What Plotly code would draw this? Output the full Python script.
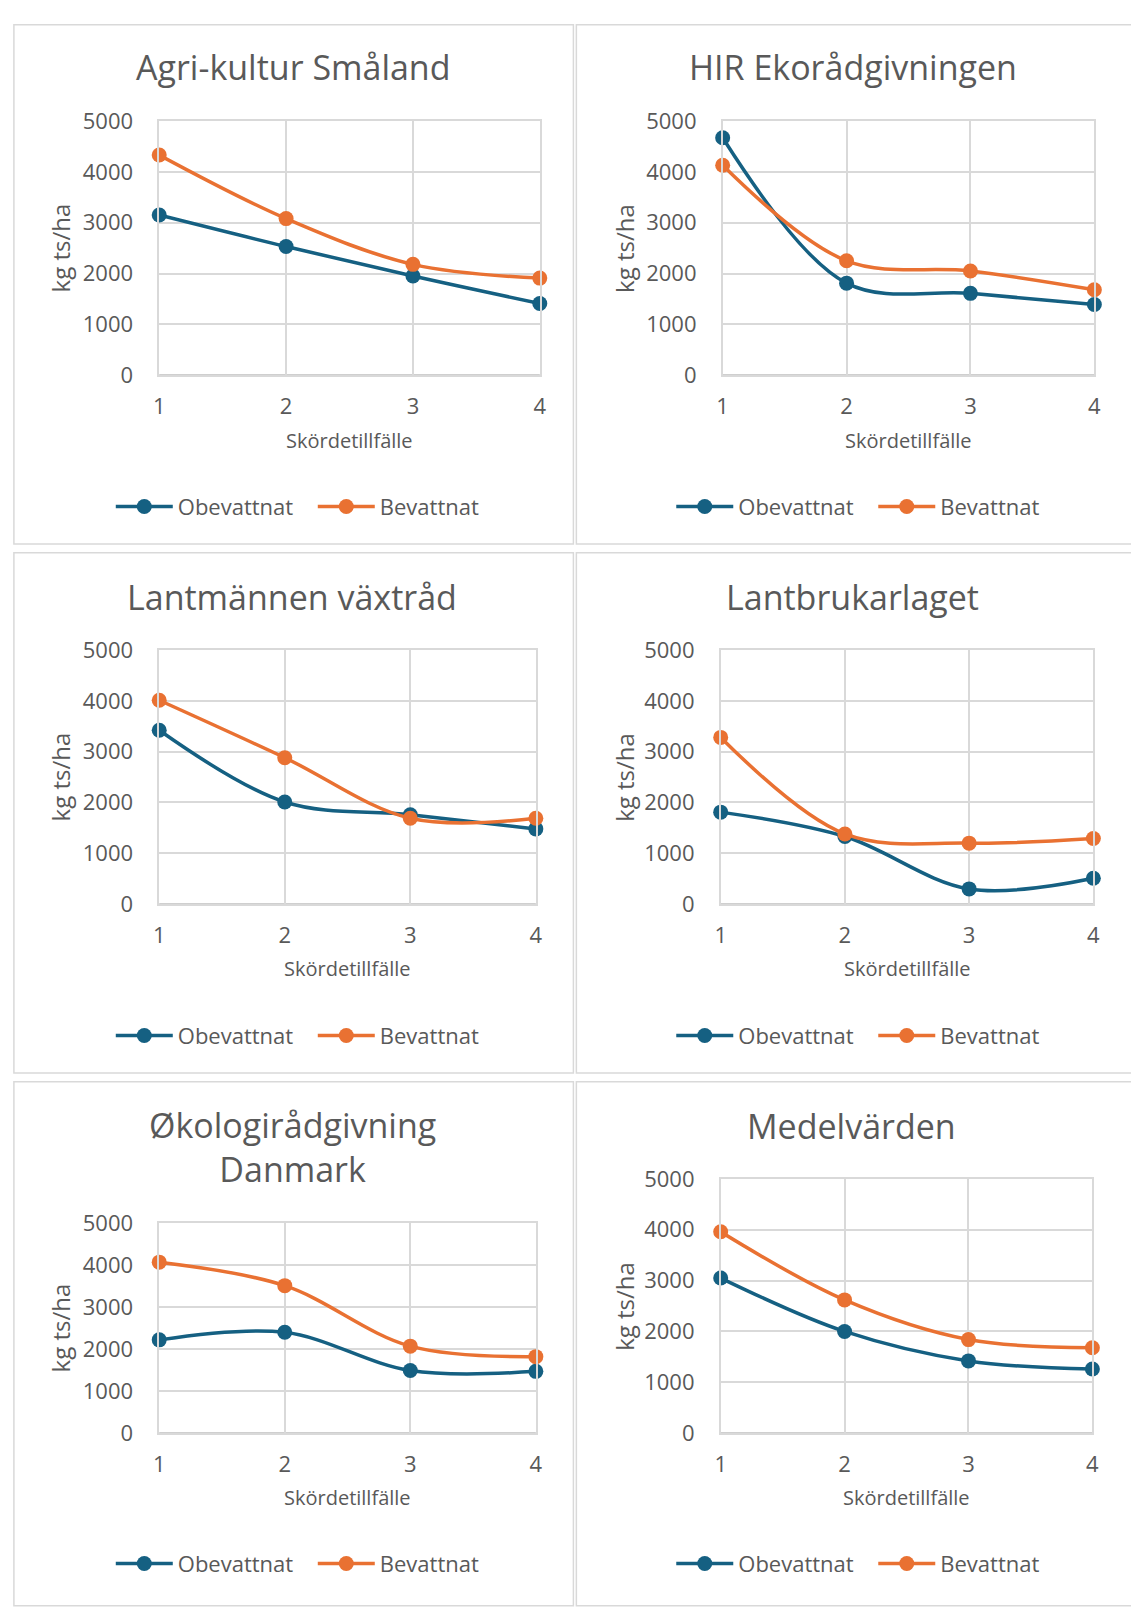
import plotly.graph_objects as go

W, H = 1131, 1611

# ---------------- data ----------------
harvests = [1, 2, 3, 4]
y_ticks = [0, 1000, 2000, 3000, 4000, 5000]
series_names = ["Obevattnat", "Bevattnat"]
titles = ["Agri-kultur Småland", "HIR Ekorådgivningen", "Lantmännen växtråd",
          "Lantbrukarlaget", "Økologirådgivning<br>Danmark", "Medelvärden"]
x_title = "Skördetillfälle"
y_title = "kg ts/ha"

obev_agri = [3150, 2530, 1950, 1410]
bev_agri = [4330, 3080, 2180, 1910]
obev_hir = [4670, 1810, 1610, 1390]
bev_hir = [4130, 2250, 2050, 1680]
obev_lant = [3420, 2010, 1760, 1480]
bev_lant = [4010, 2880, 1690, 1690]
obev_lbl = [1810, 1330, 300, 510]
bev_lbl = [3280, 1380, 1200, 1290]
obev_oko = [2220, 2400, 1490, 1470]
bev_oko = [4070, 3510, 2070, 1820]
obev_med = [3050, 2000, 1420, 1260]
bev_med = [3960, 2620, 1840, 1680]

panel_data = [(obev_agri, bev_agri), (obev_hir, bev_hir), (obev_lant, bev_lant),
              (obev_lbl, bev_lbl), (obev_oko, bev_oko), (obev_med, bev_med)]

# ---------------- styling / geometry (pixels) ----------------
BLUE = "#156082"
ORANGE = "#E97132"
TXT = "#595959"
GRID = "#D9D9D9"
AXIS = "#BFBFBF"
FONT = "Open Sans"

# panel boxes: (x0, y0, x1, y1)
panels = [(8, 9, 574, 538), (577, 9, 1140, 538),
          (8, 547, 574, 1077), (577, 547, 1140, 1077),
          (8, 1086, 574, 1620), (577, 1086, 1140, 1620)]
# plot areas: (left, top, right, bottom)
plots = [(155, 107, 540, 366), (725, 107, 1101, 366),
         (155, 646, 536, 905), (723, 646, 1100, 905),
         (155, 1230, 536, 1444), (723, 1185, 1099, 1444)]
title_pos = [(291, 52), (857, 52), (289, 592), (856, 592), (290, 1152), (855, 1131)]
ytitle_x = [55, 625, 55, 625, 55, 625]
xtitle_y = [433, 433, 971, 971, 1510, 1510]
legend_pos = [(106, 500), (673, 500), (106, 1039), (673, 1039), (106, 1577), (673, 1577)]

fig = go.Figure()
shapes = []
annotations = []
layout_extra = {}

for i in range(6):
    n = "" if i == 0 else str(i + 1)
    l, t, r, b = plots[i]
    obev, bev = panel_data[i]
    leg = "legend" + n
    for name, vals, col in ((series_names[0], obev, BLUE), (series_names[1], bev, ORANGE)):
        fig.add_trace(go.Scatter(
            x=harvests, y=vals, name=name, mode="lines+markers",
            line=dict(color=col, width=3.5, shape="spline", smoothing=1.0),
            marker=dict(color=col, size=15),
            xaxis="x" + n, yaxis="y" + n, legend=leg, cliponaxis=False,
        ))
    layout_extra["xaxis" + n] = dict(
        domain=[l / W, r / W], anchor="y" + n, range=[1, 4],
        tickvals=harvests, ticktext=[str(v) for v in harvests],
        showgrid=True, gridcolor=GRID, gridwidth=1.5, zeroline=False,
        showline=True, mirror=True, linecolor=GRID, linewidth=1.5,
        ticks="", ticklabelstandoff=11,
        tickfont=dict(family=FONT, size=22, color=TXT), fixedrange=True,
    )
    layout_extra["yaxis" + n] = dict(
        domain=[1 - b / H, 1 - t / H], anchor="x" + n, range=[0, 5000],
        tickvals=y_ticks, ticktext=[str(v) for v in y_ticks],
        showgrid=True, gridcolor=GRID, gridwidth=1.5, zeroline=False,
        showline=True, mirror=True, linecolor=GRID, linewidth=1.5,
        ticks="", ticklabelstandoff=20,
        tickfont=dict(family=FONT, size=22, color=TXT), fixedrange=True,
    )
    lx, ly = legend_pos[i]
    layout_extra[leg] = dict(
        orientation="h", x=lx / W, y=1 - ly / H, xanchor="left", yanchor="middle",
        font=dict(family=FONT, size=22, color=TXT), bgcolor="rgba(0,0,0,0)",
        itemwidth=57, entrywidth=130, traceorder="normal",
    )
    # panel border
    px0, py0, px1, py1 = panels[i]
    shapes.append(dict(type="rect", xref="paper", yref="paper",
                       x0=px0 / W, x1=px1 / W, y0=1 - py1 / H, y1=1 - py0 / H,
                       line=dict(color=GRID, width=1.5), fillcolor="rgba(0,0,0,0)", layer="below"))
    # darker category axis line at y = 0
    shapes.append(dict(type="line", xref="x" + n + " domain", yref="y" + n,
                       x0=0, x1=1, y0=0, y1=0, line=dict(color=AXIS, width=1.8), layer="below"))
    # title
    tx, ty = title_pos[i]
    annotations.append(dict(text=titles[i], x=tx / W, y=1 - ty / H, xref="paper", yref="paper",
                            xanchor="center", yanchor="middle", showarrow=False,
                            font=dict(family=FONT, size=34, color=TXT)))
    # y title
    annotations.append(dict(text=y_title, x=ytitle_x[i] / W, y=1 - ((t + b) / 2) / H,
                            xref="paper", yref="paper", xanchor="center", yanchor="middle",
                            textangle=-90, showarrow=False,
                            font=dict(family=FONT, size=24, color=TXT)))
    # x title
    annotations.append(dict(text=x_title, x=((l + r) / 2) / W, y=1 - xtitle_y[i] / H,
                            xref="paper", yref="paper", xanchor="center", yanchor="middle",
                            showarrow=False, font=dict(family=FONT, size=20, color=TXT)))

fig.update_layout(
    width=W, height=H, margin=dict(l=0, r=0, t=0, b=0),
    paper_bgcolor="white", plot_bgcolor="white",
    shapes=shapes, annotations=annotations, showlegend=True,
    **layout_extra,
)

fig.write_html("out.html", config={"displayModeBar": False},
               post_script="document.body.style.margin='0';document.body.style.overflow='hidden';")
